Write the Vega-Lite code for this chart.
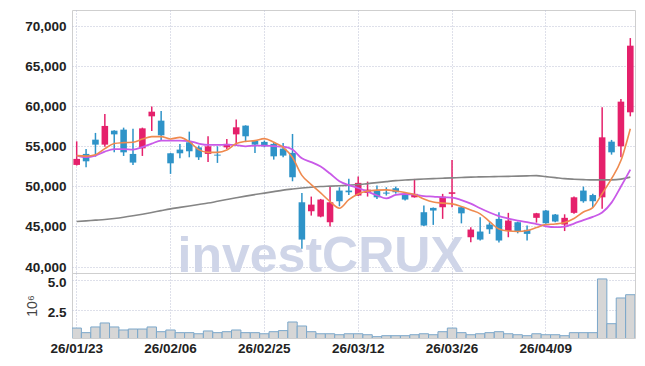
{
  "$schema": "https://vega.github.io/schema/vega-lite/v6.json",
  "padding": {"left": 24, "top": 9, "right": 10, "bottom": 5},
  "background": "white",
  "bounds": "flush",
  "config": {
    "view": {"stroke": "#cfcfcf", "strokeWidth": 1},
    "concat": {"spacing": 0},
    "axis": {
      "labelFont": "Liberation Sans, Arial, sans-serif",
      "labelFontSize": 13.5,
      "labelFontWeight": "bold",
      "labelColor": "#222222",
      "domain": false,
      "ticks": false,
      "gridColor": "#bcc0d4",
      "gridDash": [1, 2],
      "gridWidth": 1
    }
  },
  "data": {"values": [
    {"d": "26/01/23", "o": 52680, "h": 55620, "l": 52600, "c": 53430, "v": 1.01, "m5": 53840, "m10": 53840, "m60": 45620},
    {"d": "26/01/26", "o": 54050, "h": 54670, "l": 52380, "c": 53130, "v": 0.63, "m5": 53780, "m10": 53650, "m60": 45700},
    {"d": "26/01/27", "o": 55830, "h": 56670, "l": 53710, "c": 55210, "v": 1.10, "m5": 53960, "m10": 53840, "m60": 45790},
    {"d": "26/01/28", "o": 55210, "h": 59030, "l": 54960, "c": 57540, "v": 1.43, "m5": 54710, "m10": 54340, "m60": 45880},
    {"d": "26/01/29", "o": 56950, "h": 57000, "l": 54250, "c": 56490, "v": 1.10, "m5": 55340, "m10": 54650, "m60": 46000},
    {"d": "26/01/30", "o": 57080, "h": 57330, "l": 53800, "c": 54250, "v": 0.85, "m5": 55460, "m10": 54650, "m60": 46150},
    {"d": "26/02/02", "o": 54050, "h": 57200, "l": 52680, "c": 52970, "v": 0.93, "m5": 55500, "m10": 54590, "m60": 46330},
    {"d": "26/02/03", "o": 54750, "h": 57330, "l": 53800, "c": 57240, "v": 0.93, "m5": 55900, "m10": 54900, "m60": 46530},
    {"d": "26/02/04", "o": 58740, "h": 59950, "l": 56900, "c": 59320, "v": 1.10, "m5": 56210, "m10": 55340, "m60": 46750},
    {"d": "26/02/05", "o": 58200, "h": 59410, "l": 55710, "c": 56370, "v": 0.71, "m5": 56210, "m10": 55710, "m60": 46980},
    {"d": "26/02/06", "o": 54130, "h": 54180, "l": 51560, "c": 52880, "v": 0.85, "m5": 55920, "m10": 55710, "m60": 47200},
    {"d": "26/02/09", "o": 54590, "h": 55300, "l": 53500, "c": 54130, "v": 0.63, "m5": 56120, "m10": 55710, "m60": 47380},
    {"d": "26/02/10", "o": 55500, "h": 56830, "l": 53630, "c": 54380, "v": 0.63, "m5": 55580, "m10": 55650, "m60": 47560},
    {"d": "26/02/11", "o": 54870, "h": 55090, "l": 53300, "c": 53630, "v": 0.54, "m5": 54590, "m10": 55340, "m60": 47740},
    {"d": "26/02/12", "o": 54050, "h": 56250, "l": 53050, "c": 55000, "v": 0.77, "m5": 54250, "m10": 55170, "m60": 47920},
    {"d": "26/02/13", "o": 53960, "h": 55000, "l": 52930, "c": 53840, "v": 0.63, "m5": 54250, "m10": 55170, "m60": 48140},
    {"d": "26/02/19", "o": 54870, "h": 55920, "l": 54670, "c": 55300, "v": 0.71, "m5": 54550, "m10": 55210, "m60": 48360},
    {"d": "26/02/20", "o": 56490, "h": 58330, "l": 55090, "c": 57370, "v": 0.85, "m5": 55340, "m10": 55150, "m60": 48580},
    {"d": "26/02/23", "o": 57580, "h": 57620, "l": 55620, "c": 56250, "v": 0.63, "m5": 55620, "m10": 55000, "m60": 48790},
    {"d": "26/02/24", "o": 55710, "h": 55760, "l": 54180, "c": 55210, "v": 0.63, "m5": 55710, "m10": 55090, "m60": 48980},
    {"d": "26/02/25", "o": 55550, "h": 55710, "l": 54870, "c": 55000, "v": 0.54, "m5": 55960, "m10": 55090, "m60": 49160},
    {"d": "26/02/26", "o": 55300, "h": 55500, "l": 53340, "c": 53750, "v": 0.71, "m5": 55500, "m10": 55020, "m60": 49350},
    {"d": "26/02/27", "o": 54710, "h": 55420, "l": 53630, "c": 53840, "v": 0.80, "m5": 54870, "m10": 54960, "m60": 49540},
    {"d": "26/03/03", "o": 54180, "h": 56540, "l": 50640, "c": 51140, "v": 1.51, "m5": 53600, "m10": 54600, "m60": 49680},
    {"d": "26/03/04", "o": 48020, "h": 49190, "l": 42210, "c": 43370, "v": 1.18, "m5": 51380, "m10": 53500, "m60": 49800},
    {"d": "26/03/05", "o": 46900, "h": 48730, "l": 46360, "c": 47730, "v": 0.71, "m5": 50230, "m10": 53030, "m60": 49900},
    {"d": "26/03/06", "o": 46240, "h": 48440, "l": 46150, "c": 48360, "v": 0.54, "m5": 49190, "m10": 52470, "m60": 49980},
    {"d": "26/03/09", "o": 45530, "h": 49980, "l": 44990, "c": 48020, "v": 0.54, "m5": 48110, "m10": 51600, "m60": 50030},
    {"d": "26/03/10", "o": 49480, "h": 49890, "l": 47520, "c": 48150, "v": 0.46, "m5": 47280, "m10": 50650, "m60": 50080},
    {"d": "26/03/11", "o": 49480, "h": 50940, "l": 48920, "c": 49270, "v": 0.54, "m5": 48340, "m10": 50150, "m60": 50150},
    {"d": "26/03/12", "o": 48860, "h": 51220, "l": 48800, "c": 50440, "v": 0.54, "m5": 49050, "m10": 49800, "m60": 50230},
    {"d": "26/03/13", "o": 49190, "h": 50600, "l": 48730, "c": 49600, "v": 0.46, "m5": 49420, "m10": 49350, "m60": 50350},
    {"d": "26/03/16", "o": 49480, "h": 50100, "l": 48440, "c": 48640, "v": 0.30, "m5": 49540, "m10": 48900, "m60": 50470},
    {"d": "26/03/17", "o": 49230, "h": 49890, "l": 48860, "c": 49100, "v": 0.38, "m5": 49570, "m10": 48500, "m60": 50600},
    {"d": "26/03/18", "o": 49770, "h": 49980, "l": 49100, "c": 49270, "v": 0.38, "m5": 49420, "m10": 48930, "m60": 50720},
    {"d": "26/03/19", "o": 49070, "h": 49270, "l": 48230, "c": 48360, "v": 0.38, "m5": 49230, "m10": 49050, "m60": 50790},
    {"d": "26/03/20", "o": 48640, "h": 50940, "l": 48600, "c": 49070, "v": 0.46, "m5": 48980, "m10": 48980, "m60": 50860},
    {"d": "26/03/23", "o": 46780, "h": 47610, "l": 45050, "c": 45120, "v": 0.54, "m5": 48440, "m10": 48790, "m60": 50920},
    {"d": "26/03/24", "o": 47320, "h": 47370, "l": 45200, "c": 46990, "v": 0.46, "m5": 48050, "m10": 48730, "m60": 50970},
    {"d": "26/03/25", "o": 47400, "h": 49070, "l": 45950, "c": 48730, "v": 0.71, "m5": 47920, "m10": 48640, "m60": 51020},
    {"d": "26/03/26", "o": 49070, "h": 53300, "l": 47400, "c": 49270, "v": 1.01, "m5": 47820, "m10": 48610, "m60": 51060},
    {"d": "26/03/27", "o": 47400, "h": 47450, "l": 45390, "c": 46640, "v": 0.63, "m5": 47490, "m10": 48300, "m60": 51110},
    {"d": "26/03/30", "o": 43660, "h": 44910, "l": 43040, "c": 44620, "v": 0.46, "m5": 47050, "m10": 47860, "m60": 51160},
    {"d": "26/03/31", "o": 44370, "h": 46150, "l": 43250, "c": 43370, "v": 0.54, "m5": 46580, "m10": 47270, "m60": 51190},
    {"d": "26/04/01", "o": 45240, "h": 45530, "l": 44080, "c": 44650, "v": 0.63, "m5": 45620, "m10": 46740, "m60": 51210},
    {"d": "26/04/02", "o": 45950, "h": 46780, "l": 42990, "c": 43250, "v": 0.71, "m5": 44680, "m10": 46300, "m60": 51230},
    {"d": "26/04/03", "o": 44430, "h": 46700, "l": 43660, "c": 45740, "v": 0.54, "m5": 44430, "m10": 45990, "m60": 51250},
    {"d": "26/04/06", "o": 45530, "h": 45600, "l": 44150, "c": 44430, "v": 0.46, "m5": 44370, "m10": 45740, "m60": 51280},
    {"d": "26/04/07", "o": 44580, "h": 45120, "l": 43250, "c": 44080, "v": 0.38, "m5": 44490, "m10": 45550, "m60": 51310},
    {"d": "26/04/08", "o": 46080, "h": 46700, "l": 45480, "c": 46650, "v": 0.54, "m5": 44870, "m10": 45300, "m60": 51340},
    {"d": "26/04/09", "o": 46990, "h": 47050, "l": 45330, "c": 45400, "v": 0.46, "m5": 45240, "m10": 45030, "m60": 51220},
    {"d": "26/04/10", "o": 46490, "h": 46550, "l": 45530, "c": 45620, "v": 0.46, "m5": 45310, "m10": 44910, "m60": 51100},
    {"d": "26/04/13", "o": 45240, "h": 46520, "l": 44430, "c": 46080, "v": 0.38, "m5": 45490, "m10": 44990, "m60": 50970},
    {"d": "26/04/14", "o": 46700, "h": 48730, "l": 46580, "c": 48640, "v": 0.63, "m5": 45990, "m10": 45370, "m60": 50900},
    {"d": "26/04/15", "o": 49480, "h": 49980, "l": 47970, "c": 48150, "v": 0.63, "m5": 46800, "m10": 45800, "m60": 50850},
    {"d": "26/04/16", "o": 48920, "h": 49070, "l": 47400, "c": 48150, "v": 0.63, "m5": 47360, "m10": 46200, "m60": 50810},
    {"d": "26/04/17", "o": 48640, "h": 59860, "l": 47200, "c": 56120, "v": 5.06, "m5": 49100, "m10": 46740, "m60": 50810},
    {"d": "26/04/20", "o": 55580, "h": 55800, "l": 53960, "c": 54250, "v": 1.37, "m5": 50970, "m10": 47980, "m60": 50820},
    {"d": "26/04/21", "o": 55000, "h": 60900, "l": 53630, "c": 60570, "v": 3.49, "m5": 53220, "m10": 49980, "m60": 50910},
    {"d": "26/04/22", "o": 59240, "h": 68500, "l": 58740, "c": 67550, "v": 3.76, "m5": 57200, "m10": 52100, "m60": 51160}
  ]},
  "spacing": 0,
  "vconcat": [
    {
      "width": 563,
      "height": 263,
      "encoding": {
        "x": {
          "field": "d", "type": "ordinal", "title": null,
          "scale": {"paddingInner": 0, "paddingOuter": 0},
          "axis": {"labels": false, "grid": true, "bandPosition": 0.5, "labelPadding": 0, "minExtent": 0, "maxExtent": 0, "offset": 0,
                   "values": ["26/01/23", "26/02/06", "26/02/25", "26/03/12", "26/03/26", "26/04/09"]}
        }
      },
      "layer": [
        {
          "data": {"values": [{"label": "investCRUX"}]},
          "mark": {"type": "text", "font": "Liberation Sans", "fontWeight": "bold", "fontSize": 50, "color": "#cfd5e8", "baseline": "alphabetic", "align": "center"},
          "encoding": {
            "x": {"datum": "26/03/06", "type": "ordinal"},
            "y": {"datum": 39300, "type": "quantitative", "scale": {"domain": [39200, 72000], "nice": false, "zero": false}},
            "text": {"field": "label"}
          }
        },
        {
          "mark": {"type": "rule", "strokeWidth": 1.5},
          "encoding": {
            "y": {"field": "l", "type": "quantitative", "title": null,
                  "scale": {"domain": [39200, 72000], "nice": false, "zero": false},
                  "axis": {"values": [40000, 45000, 50000, 55000, 60000, 65000, 70000], "format": ",.0f", "labelPadding": 6, "labelOffset": 0.5, "grid": true}},
            "y2": {"field": "h"},
            "color": {"condition": {"test": "datum.c >= datum.o", "value": "#e5206b"}, "value": "#2e93c8"}
          }
        },
        {
          "mark": {"type": "bar", "width": {"band": 0.7}},
          "encoding": {
            "y": {"field": "o", "type": "quantitative", "title": null, "scale": {"domain": [39200, 72000], "nice": false, "zero": false}},
            "y2": {"field": "c"},
            "color": {"condition": {"test": "datum.c >= datum.o", "value": "#e5206b"}, "value": "#2e93c8"}
          }
        },
        {
          "mark": {"type": "line", "color": "#858585", "strokeWidth": 1.6, "interpolate": "monotone"},
          "encoding": {"y": {"field": "m60", "type": "quantitative", "title": null, "scale": {"domain": [39200, 72000], "nice": false, "zero": false}}}
        },
        {
          "mark": {"type": "line", "color": "#c95ae8", "strokeWidth": 1.8, "interpolate": "monotone"},
          "encoding": {"y": {"field": "m10", "type": "quantitative", "title": null, "scale": {"domain": [39200, 72000], "nice": false, "zero": false}}}
        },
        {
          "mark": {"type": "line", "color": "#ef8a4f", "strokeWidth": 1.6, "interpolate": "monotone"},
          "encoding": {"y": {"field": "m5", "type": "quantitative", "title": null, "scale": {"domain": [39200, 72000], "nice": false, "zero": false}}}
        }
      ]
    },
    {
      "width": 563,
      "height": 65,
      "mark": {"type": "bar", "width": {"band": 1}, "fill": "#d6d6d6", "stroke": "#7ba7ca", "strokeWidth": 1, "clip": true},
      "encoding": {
        "x": {
          "field": "d", "type": "ordinal", "title": null,
          "scale": {"paddingInner": 0, "paddingOuter": 0},
          "axis": {"labelAngle": 0, "grid": true, "bandPosition": 0.5, "labelPadding": 3,
                   "values": ["26/01/23", "26/02/06", "26/02/25", "26/03/12", "26/03/26", "26/04/09"]}
        },
        "y": {
          "field": "v", "type": "quantitative",
          "scale": {"domain": [0.19, 5.55], "nice": false, "zero": false},
          "axis": {"values": [2.5, 5.0], "format": ".1f", "labelPadding": 6, "labelOffset": 3, "grid": true,
                   "title": "10⁶", "titleFont": "Liberation Sans, sans-serif", "titleFontWeight": "normal",
                   "titleFontSize": 14, "titleColor": "#444444", "titlePadding": 8}
        },
        "y2": {"datum": 0}
      }
    }
  ]
}
